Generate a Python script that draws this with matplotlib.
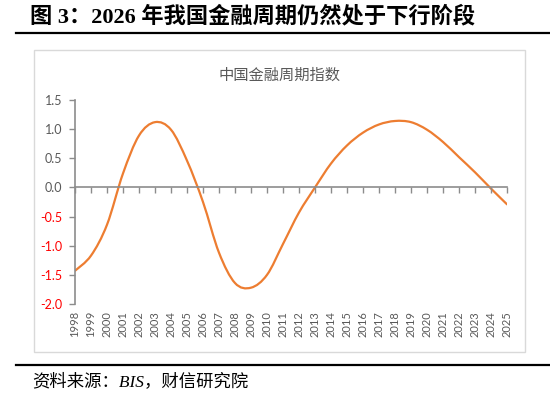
import matplotlib
matplotlib.use("Agg")
import matplotlib.pyplot as plt
from matplotlib.patches import PathPatch, Rectangle
from matplotlib.path import Path
from matplotlib.lines import Line2D
from matplotlib.ticker import FormatStrFormatter

plt.rcParams['axes.unicode_minus'] = False

years = list(range(1998, 2026))
cycle_index = [-1.43, -1.17, -0.64, 0.24, 0.89, 1.12, 0.99, 0.46, -0.25, -1.12,
               -1.64, -1.72, -1.50, -0.97, -0.43, 0.00, 0.41, 0.72, 0.94, 1.08,
               1.14, 1.12, 0.99, 0.78, 0.52, 0.26, -0.02, -0.29]
y_ticks = [1.5, 1.0, 0.5, 0.0, -0.5, -1.0, -1.5, -2.0]

fig_title = "图 3：2026 年我国金融周期仍然处于下行阶段"
chart_title = "中国金融周期指数"
source_text = "资料来源：BIS，财信研究院"

LINE_COLOR = "#ED7D31"
GRAY = "#595959"
AXIS_GRAY = "#8C8C8C"


def smooth_path(x, y):
    # excel-style smoothed line: bezier segments through every point
    n = len(x)
    verts = [(x[0], y[0])]
    codes = [Path.MOVETO]
    for i in range(n - 1):
        xp, yp = (x[i - 1], y[i - 1]) if i > 0 else (x[i], y[i])
        xn, yn = (x[i + 2], y[i + 2]) if i + 2 < n else (x[i + 1], y[i + 1])
        c1 = (x[i] + (x[i + 1] - xp) / 6, y[i] + (y[i + 1] - yp) / 6)
        c2 = (x[i + 1] - (xn - x[i]) / 6, y[i + 1] - (yn - y[i]) / 6)
        verts += [c1, c2, (x[i + 1], y[i + 1])]
        codes += [Path.CURVE4] * 3
    return Path(verts, codes)


fig = plt.figure(figsize=(5.5, 3.97), dpi=100)
W, H = 550.0, 397.0

# page decorations
fig.text(30 / W, 1 - 17 / H, fig_title, fontsize=16, fontweight="bold",
         family=["Liberation Serif", "Noto Sans CJK SC"], va="center", ha="left")
fig.add_artist(Line2D([16 / W, 1.0], [1 - 33 / H, 1 - 33 / H], color="black", lw=1.6))
fig.add_artist(Line2D([16 / W, 1.0], [1 - 365 / H, 1 - 365 / H], color="black", lw=1.6))
fig.text(32 / W, 1 - 382 / H, source_text, fontsize=12.5, fontstyle="italic",
         family=["Liberation Serif", "Noto Sans CJK SC"], va="center", ha="left")

# chart frame
fig.add_artist(Rectangle((34 / W, 1 - 352 / H), 491 / W, 302 / H, transform=fig.transFigure,
                         fill=False, edgecolor="#D9D9D9", lw=1))
fig.text(280 / W, 1 - 75 / H, chart_title, fontsize=11, color=GRAY,
         family=["Noto Sans CJK SC"], va="center", ha="center")

ax = fig.add_axes([75 / W, 1 - 304 / H, 432 / W, 204 / H])
ax.set_facecolor("none")
ax.add_patch(PathPatch(smooth_path(years, cycle_index), fill=False,
                       edgecolor=LINE_COLOR, lw=1.6, capstyle="round"))
ax.set_xlim(years[0], years[-1])
ax.set_ylim(-2.0, 1.5)

ax.spines["right"].set_visible(False)
ax.spines["bottom"].set_visible(False)
ax.spines["top"].set_position(("data", 0))
ax.spines["top"].set_color(AXIS_GRAY)
ax.spines["left"].set_color(AXIS_GRAY)
ax.spines["top"].set_linewidth(1.2)
ax.spines["left"].set_linewidth(1.2)

ax.set_xticks(years)
ax.set_xticklabels([str(y) for y in years], rotation=90, fontsize=8, color=GRAY,
                   family="Lato")
ax.tick_params(axis="x", bottom=False, top=True, labelbottom=True, labeltop=False,
               direction="in", length=4, width=1, color=AXIS_GRAY, pad=5)

ax.set_yticks(y_ticks)
ax.yaxis.set_major_formatter(FormatStrFormatter("%.1f"))
ax.tick_params(axis="y", direction="out", length=4, width=1, color=AXIS_GRAY,
               labelsize=9, pad=5)
for lab, v in zip(ax.get_yticklabels(), ax.get_yticks()):
    lab.set_family("Lato")
    lab.set_color("#FF0000" if v < 0 else GRAY)

fig.savefig("out.png", dpi=100)
